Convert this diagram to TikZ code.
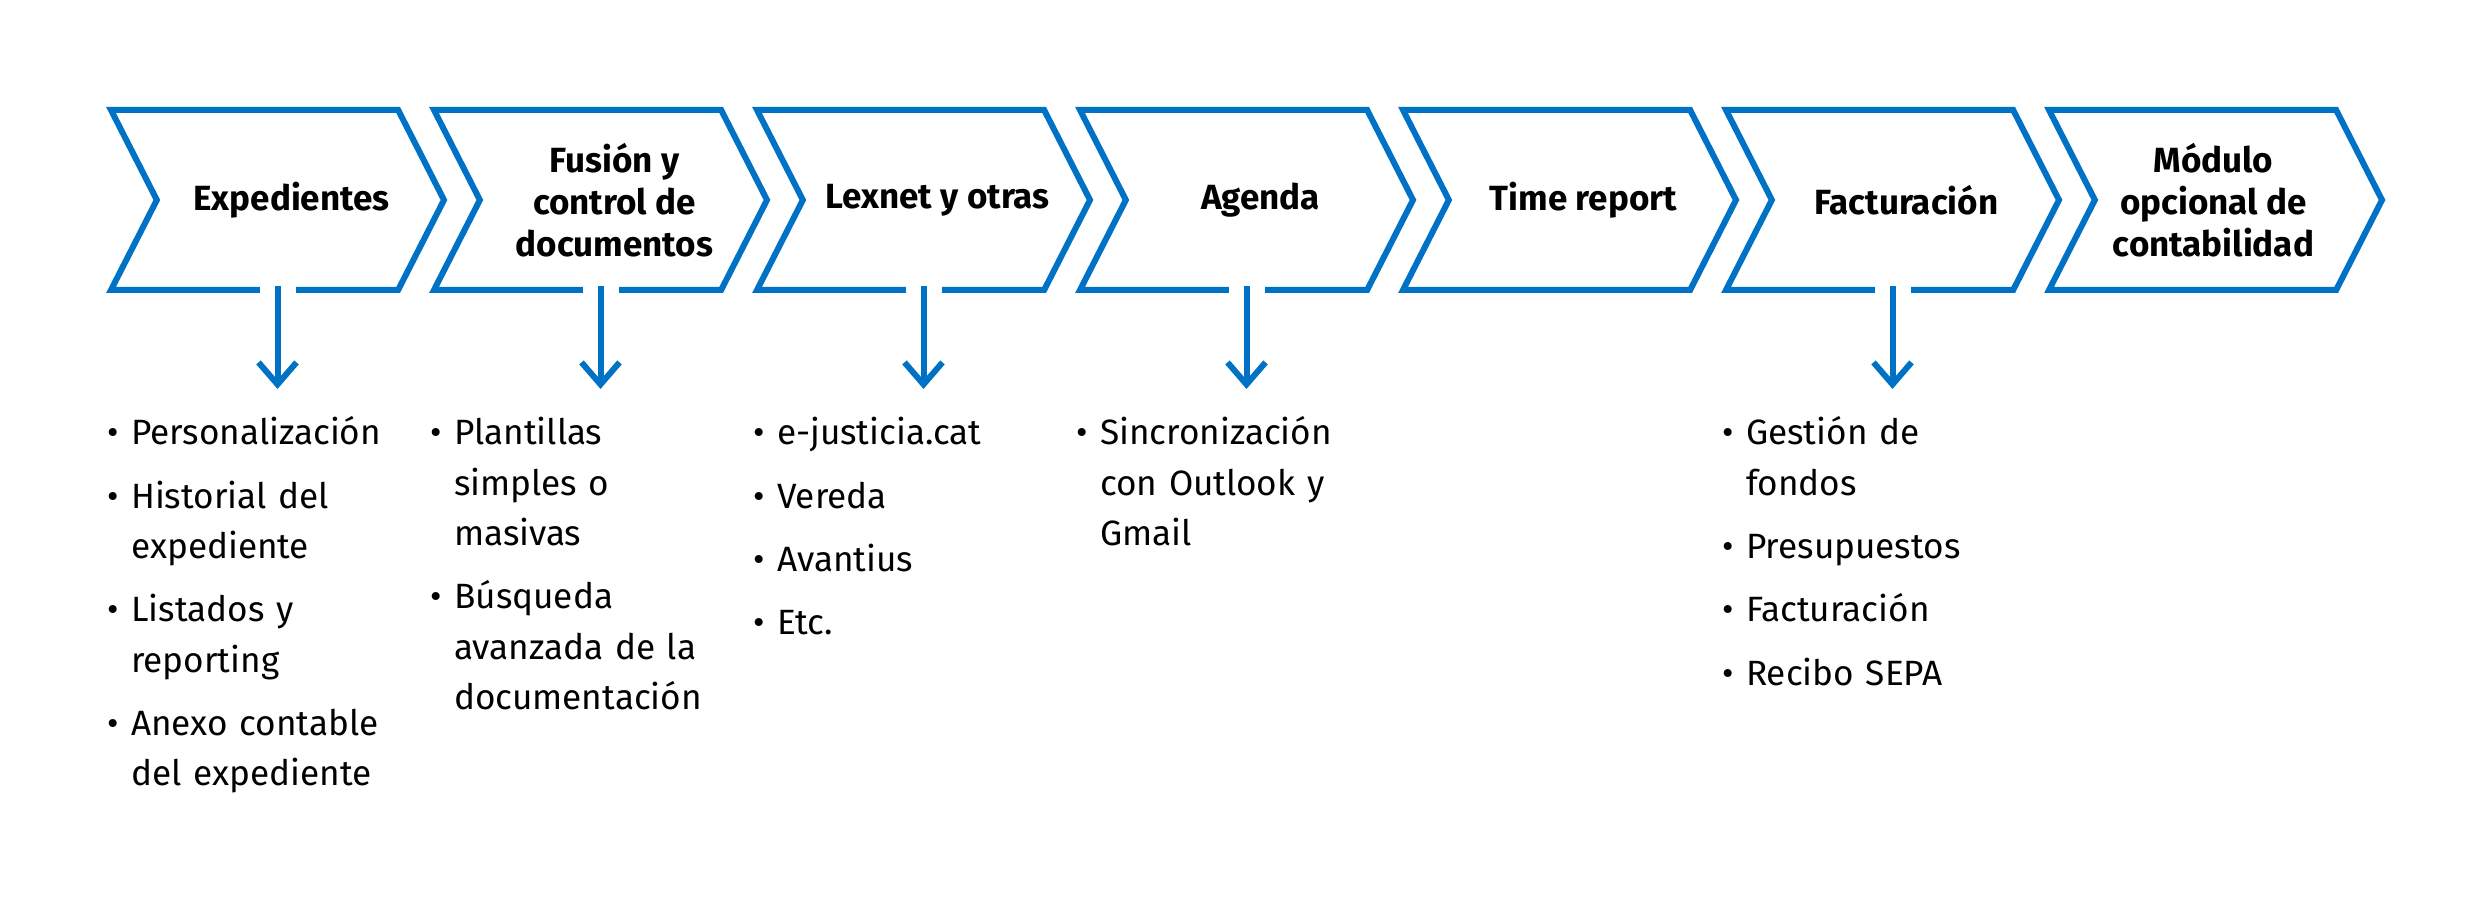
\documentclass[tikz,border=0pt]{standalone}
\usepackage{fontspec}
\setmainfont{Fira Sans}
\usetikzlibrary{shapes.symbols, arrows.meta, positioning}
\definecolor{stepblue}{RGB}{0,114,198}

% one bullet entry with hanging indent
\newcommand{\entry}[1]{\hangindent=2.35mm\hangafter=1\noindent\makebox[2.35mm][l]{\textbullet}#1\par\vspace{1.3mm}}

\begin{document}
\begin{tikzpicture}[
  stage/.style={signal, signal from=west, signal to=east, signal pointer angle=126,
    draw=stepblue, line width=0.6mm, line join=miter, minimum width=3.33cm, minimum height=1.8cm,
    inner sep=0pt, outer sep=0pt},
  stagetext/.style={align=center, inner sep=0pt, font=\fontsize{9.96}{11.95}\selectfont\bfseries},
  gap/.style={white, line width=3.6mm},
  drop/.style={stepblue, line width=0.6mm, -{Straight Barb[length=2.2mm, width=3.8mm, line join=miter]}},
  itemlist/.style={anchor=base west, text width=3.3cm, inner sep=0pt,
    font=\fontsize{10}{14.3}\selectfont}
]
\useasboundingbox (0,0) rectangle (24.8,8.98);

% etapas
\foreach \i/\dx/\txt in {1/1.4/Expedientes, 2/1.4/{Fusión y\\control de\\documentos}, 3/1.4/Lexnet y otras,
    4/1.4/Agenda, 5/1.4/Time report, 6/1.4/Facturación, 7/-0.2/{Módulo\\opcional de\\contabilidad}} {
  \node[stage, label={[stagetext, xshift=\dx mm]center:{\txt}}] (c\i) at ({2.775+3.23*(\i-1)},6.98) {};
}

% listas
\node[itemlist] (l1) at (1.07,4.53) {%
  \entry{Personalización}
  \entry{Historial del\newline expediente}
  \entry{Listados y\newline reporting}
  \entry{Anexo contable\newline del expediente}};
\node[itemlist] (l2) at (4.30,4.53) {%
  \entry{Plantillas\newline simples o\newline masivas}
  \entry{Búsqueda\newline avanzada de la\newline documentación}};
\node[itemlist] (l3) at (7.53,4.53) {%
  \entry{e-justicia.cat}
  \entry{Vereda}
  \entry{Avantius}
  \entry{Etc.}};
\node[itemlist] (l4) at (10.76,4.53) {%
  \entry{Sincronización\newline con Outlook y\newline Gmail}};
\node[itemlist] (l6) at (17.22,4.53) {%
  \entry{Gestión de\newline fondos}
  \entry{Presupuestos}
  \entry{Facturación}
  \entry{Recibo SEPA}};

% flechas hacia las listas
\foreach \i in {1,2,3,4,6} {
  \draw[gap] ([yshift=0.6mm]c\i.south) -- ([yshift=-0.6mm]c\i.south);
  \path ([yshift=-0.9mm]c\i.south) ++(0,-0.9) coordinate (a\i);
  \draw[drop] ([yshift=0.4mm]c\i.south) -- (a\i);
}

\end{tikzpicture}
\end{document}
